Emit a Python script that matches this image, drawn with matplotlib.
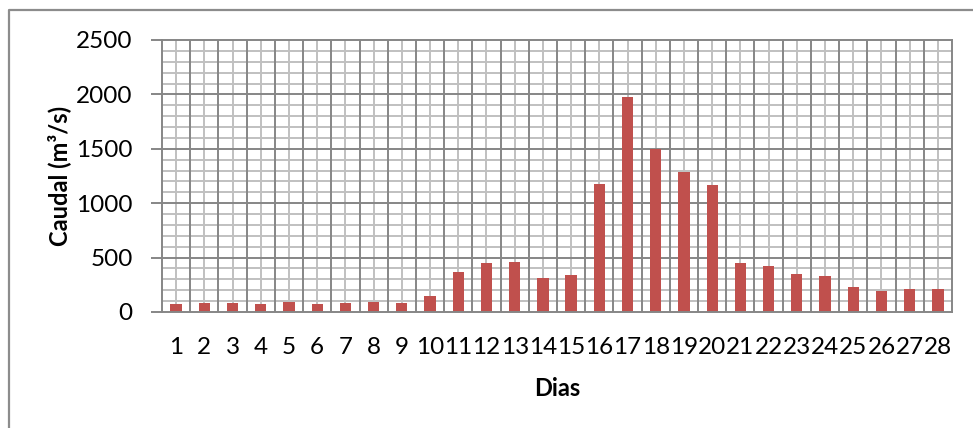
import matplotlib.pyplot as plt
import numpy as np
from matplotlib.lines import Line2D

dias = np.arange(1, 29)
caudal = [74, 83, 85, 70, 92, 77, 83, 95, 80, 145,
          365, 450, 460, 313, 340, 1180, 1980, 1500, 1284, 1170,
          447, 423, 349, 334, 227, 190, 214, 208]
y_ticks = [0, 500, 1000, 1500, 2000, 2500]

plt.rcParams['font.family'] = ['Lato', 'DejaVu Sans']

fig = plt.figure(figsize=(9.73, 4.28), dpi=100)
ax = fig.add_axes([162 / 973, 1 - 312 / 428, (952 - 162) / 973, (312 - 40) / 428])

# moldura cinzenta do gráfico (só os lados esquerdo e de cima aparecem)
fig.add_artist(Line2D([9 / 973, 9 / 973, 1.0], [0.0, 1 - 10 / 428, 1 - 10 / 428],
                      transform=fig.transFigure, color='#8c8c8c', linewidth=1.6))

major_c = '#868686'
minor_c = '#c0c0c0'

# grelha
for v in np.arange(100, 2500, 100):
    if v % 500:
        ax.axhline(v, color=minor_c, linewidth=1.4, zorder=0)
    else:
        ax.axhline(v, color=major_c, linewidth=1.4, zorder=0.5)
for d in dias:
    ax.axvline(d, color=minor_c, linewidth=1.4, zorder=0)
for d in np.arange(1.5, 28.5, 1):
    ax.axvline(d, color=major_c, linewidth=1.4, zorder=0.5)

ax.bar(dias, caudal, width=0.4, color='#c0504d', zorder=2)

ax.set_xlim(0.5, 28.5)
ax.set_ylim(0, 2500)
ax.set_xticks(dias)
ax.set_xticklabels([str(d) for d in dias])
ax.set_yticks(y_ticks)
ax.tick_params(axis='x', length=0, pad=18, labelsize=17.5)
ax.tick_params(axis='y', length=8, width=1.4, color=major_c, pad=13, labelsize=17.5)

for s in ax.spines.values():
    s.set_color(major_c)
    s.set_linewidth(1.4)

ax.set_xlabel('Dias', fontsize=17, fontweight='bold', labelpad=14)
ax.set_ylabel('Caudal (m³/s)', fontsize=17, fontweight='bold', labelpad=4)

fig.savefig('out.png', dpi=100)
